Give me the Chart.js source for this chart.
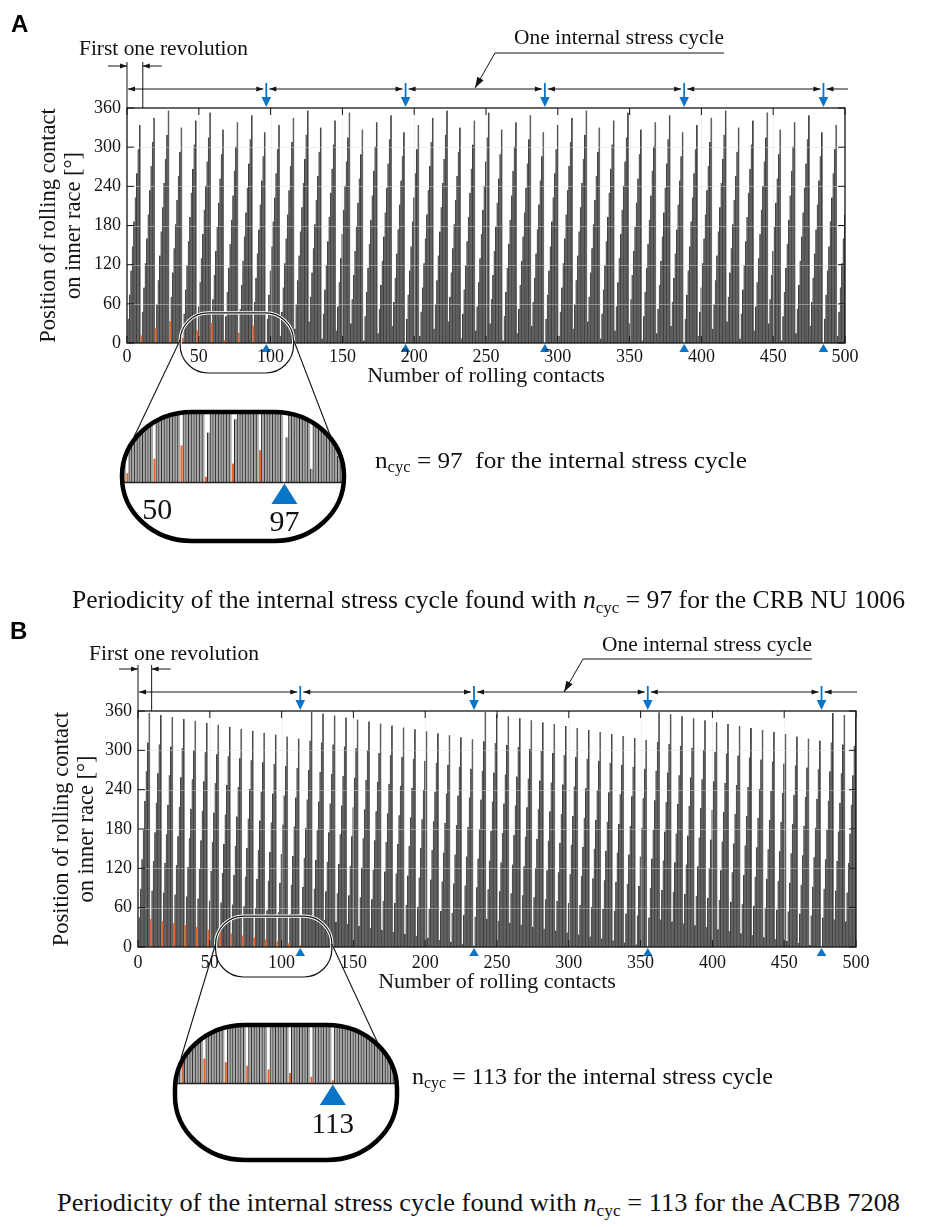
<!DOCTYPE html>
<html>
<head>
<meta charset="utf-8">
<title>Periodicity of the internal stress cycle</title>
<script src="https://cdn.jsdelivr.net/npm/chart.js@4.4.0/dist/chart.umd.min.js"></script>
<style>
  html, body { margin: 0; padding: 0; background: #fff; }
  #page { position: relative; width: 927px; height: 1227px; overflow: hidden; background: #fff; }
  canvas { position: absolute; }
  .main { z-index: 1; }
  .inset { z-index: 2; }
  .txt { position: absolute; z-index: 3; font-family: "Liberation Serif", "Times New Roman", serif;
         line-height: 1; white-space: nowrap; color: #111; transform-origin: 0 0; }
  .panel { position: absolute; z-index: 3; font-family: "Liberation Sans", Arial, sans-serif;
           font-weight: bold; font-size: 24px; line-height: 1; color: #000; }
  .sub { font-size: 0.66em; position: relative; top: 0.28em; }
</style>
</head>
<body>
<div id="page">
  <div class="panel" style="left:11px; top:12px;">A</div>
  <div class="panel" style="left:10px; top:619px;">B</div>

  <canvas id="mainA" class="main" width="927" height="560" style="left:0; top:0;"></canvas>
  <canvas id="insetA" class="inset" width="250" height="150" style="left:110px; top:400px;"></canvas>
  <canvas id="mainB" class="main" width="927" height="560" style="left:0; top:615px;"></canvas>
  <canvas id="insetB" class="inset" width="250" height="160" style="left:160px; top:1012px;"></canvas>

  <div class="txt fit" data-w="169" style="font-size:21.5px; left:79px; top:38px;">First one revolution</div>
  <div class="txt fit" data-w="210" style="font-size:21.5px; left:514px; top:27px;">One internal stress cycle</div>
  <div class="txt fit" data-w="372" style="font-size:24px; left:375px; top:448px;">n<span class="sub">cyc</span> = 97&nbsp;&nbsp;for the internal stress cycle</div>
  <div class="txt fit" data-w="833" style="font-size:25px; left:72px; top:587px;">Periodicity of the internal stress cycle found with <i>n</i><span class="sub">cyc</span> = 97 for the CRB NU 1006</div>

  <div class="txt fit" data-w="170" style="font-size:21.5px; left:89px; top:643px;">First one revolution</div>
  <div class="txt fit" data-w="210" style="font-size:21.5px; left:602px; top:634px;">One internal stress cycle</div>
  <div class="txt fit" data-w="361" style="font-size:24px; left:412px; top:1064px;">n<span class="sub">cyc</span> = 113 for the internal stress cycle</div>
  <div class="txt fit" data-w="843" style="font-size:25px; left:57px; top:1190px;">Periodicity of the internal stress cycle found with <i>n</i><span class="sub">cyc</span> = 113 for the ACBB 7208</div>
</div>

<script>
// ---- data ----
const xTicks = [0, 50, 100, 150, 200, 250, 300, 350, 400, 450, 500];
const yTicks = [0, 60, 120, 180, 240, 300, 360];

// A: CRB NU 1006, contact position on inner race (deg) for contacts 0..500
const posA = [
  // cycle 1 (0-96)
  0,37,74,111,148,186,223,260,297,334, 11,48,85,122,160,197,234,271,308,345,
  22,59,96,134,171,208,245,282,319,356, 33,71,108,145,182,219,256,293,330,
  7,45,82,119,156,193,230,267,304,341, 19,56,93,130,167,204,241,278,315,353,
  30,67,104,141,178,215,252,289,327, 4,41,78,115,152,189,226,264,301,338,
  15,52,89,126,163,200,238,275,312,349, 26,63,100,137,174,212,249,286,323,
  // cycle 2 (97-193)
  0,37,74,111,148,186,223,260,297,334, 11,48,85,122,160,197,234,271,308,345,
  22,59,96,134,171,208,245,282,319,356, 33,71,108,145,182,219,256,293,330,
  7,45,82,119,156,193,230,267,304,341, 19,56,93,130,167,204,241,278,315,353,
  30,67,104,141,178,215,252,289,327, 4,41,78,115,152,189,226,264,301,338,
  15,52,89,126,163,200,238,275,312,349, 26,63,100,137,174,212,249,286,323,
  // cycle 3 (194-290)
  0,37,74,111,148,186,223,260,297,334, 11,48,85,122,160,197,234,271,308,345,
  22,59,96,134,171,208,245,282,319,356, 33,71,108,145,182,219,256,293,330,
  7,45,82,119,156,193,230,267,304,341, 19,56,93,130,167,204,241,278,315,353,
  30,67,104,141,178,215,252,289,327, 4,41,78,115,152,189,226,264,301,338,
  15,52,89,126,163,200,238,275,312,349, 26,63,100,137,174,212,249,286,323,
  // cycle 4 (291-387)
  0,37,74,111,148,186,223,260,297,334, 11,48,85,122,160,197,234,271,308,345,
  22,59,96,134,171,208,245,282,319,356, 33,71,108,145,182,219,256,293,330,
  7,45,82,119,156,193,230,267,304,341, 19,56,93,130,167,204,241,278,315,353,
  30,67,104,141,178,215,252,289,327, 4,41,78,115,152,189,226,264,301,338,
  15,52,89,126,163,200,238,275,312,349, 26,63,100,137,174,212,249,286,323,
  // cycle 5 (388-484)
  0,37,74,111,148,186,223,260,297,334, 11,48,85,122,160,197,234,271,308,345,
  22,59,96,134,171,208,245,282,319,356, 33,71,108,145,182,219,256,293,330,
  7,45,82,119,156,193,230,267,304,341, 19,56,93,130,167,204,241,278,315,353,
  30,67,104,141,178,215,252,289,327, 4,41,78,115,152,189,226,264,301,338,
  15,52,89,126,163,200,238,275,312,349, 26,63,100,137,174,212,249,286,323,
  // 485-500
  0,37,74,111,148,186,223,260,297,334, 11,48,85,122,160,197
];
const markedA = [10, 20, 30, 39, 49, 59, 68, 78, 88];      // orange: tracked roller
const cyclesA = [97, 194, 291, 388, 485];
const firstRevA = 11;
const insetTicksA = [50, 97];

// B: ACBB 7208
const posB = [
  0,45,89,134,178,223,268,312,357,
  42,86,131,175,220,265,309,354, 39,83,128,172,217,262,306,351,
  36,80,125,169,214,259,303,348, 33,77,122,166,211,256,300,345,
  30,74,119,163,208,253,297,342, 26,71,116,160,205,250,294,339,
  23,68,113,157,202,247,291,336, 20,65,110,154,199,244,288,333,
  17,62,107,151,196,241,285,330, 14,59,104,148,193,237,282,327,
  11,56,101,145,190,234,279,324, 8,53,98,142,187,231,276,321,
  5,50,95,139,184,228,273,318,
  2,47,92,136,181,225,270,315,359,
  44,89,133,178,222,267,312,356, 41,85,130,175,219,264,309,353,
  38,82,127,172,216,261,306,350, 35,79,124,169,213,258,303,347,
  32,76,121,166,210,255,300,344, 29,73,118,163,207,252,296,341,
  26,70,115,160,204,249,293,338, 23,67,112,157,201,246,290,335,
  20,64,109,154,198,243,287,332, 17,61,106,151,195,240,284,329,
  14,58,103,148,192,237,281,326, 11,55,100,144,189,234,278,323,
  8,52,97,141,186,231,275,320, 5,49,94,138,183,228,272,317,
  2,46,91,135,180,225,269,314,359,
  43,88,132,177,222,266,311,355, 40,85,129,174,219,263,308,352,
  37,82,126,171,216,260,305,349, 34,79,123,168,213,257,302,346,
  31,76,120,165,210,254,299,343, 28,73,117,162,207,251,296,340,
  25,70,114,159,203,248,293,337, 22,67,111,156,200,245,290,334,
  19,64,108,153,197,242,287,331, 16,61,105,150,194,239,284,328,
  13,58,102,147,191,236,281,325, 10,55,99,144,188,233,278,322,
  7,51,96,141,185,230,275,319, 4,48,93,138,182,227,272,316,
  1,45,90,135,179,224,269,313,358,
  42,87,132,176,221,266,310,355, 39,84,129,173,218,262,307,352,
  36,81,126,170,215,259,304,349, 33,78,123,167,212,256,301,346,
  30,75,120,164,209,253,298,343, 27,72,117,161,206,250,295,340,
  24,69,114,158,203,247,292,337, 21,66,110,155,200,244,289,334,
  18,63,107,152,197,241,286,331, 15,60,104,149,194,238,283,328,
  12,57,101,146,191,235,280,325, 9,54,98,143,188,232,277,321,
  6,51,95,140,185,229,274,318, 3,48,92,137,182,226,271,315,
  0,45,89,134,179,223,268,312,357,
  42,86,131,176,220,265,309,354, 39,83,128,173,217,262,307,351
];
const markedB = [9, 17, 25, 33, 41, 49, 57, 65, 73, 81, 89, 97, 105, 113];
const cyclesB = [113, 234, 355, 476];
const firstRevB = 9.5;
const insetTicksB = [113];

// ---- styling ----
const SERIF = '"Liberation Serif", "Times New Roman", serif';
const GRAY = '#666666';
const ORANGE = '#e0652e';
const BLUE = '#0a74c6';
const INK = '#151515';

function seg(ctx, x1, y1, x2, y2) {
  ctx.beginPath(); ctx.moveTo(x1, y1); ctx.lineTo(x2, y2); ctx.stroke();
}
function head(ctx, x, y, ang, len, hw) {
  const c = Math.cos(ang), s = Math.sin(ang);
  ctx.beginPath();
  ctx.moveTo(x, y);
  ctx.lineTo(x - len * c + hw * s, y - len * s - hw * c);
  ctx.lineTo(x - len * c - hw * s, y - len * s + hw * c);
  ctx.closePath(); ctx.fill();
}

function decorPlugin(cfg) {
  return {
    id: 'decor',
    afterDatasetsDraw(chart) {
      const { ctx, chartArea: ca, scales: { x, y } } = chart;
      ctx.save();
      // grid is drawn over the bars, as in the figure
      ctx.strokeStyle = 'rgba(225,225,225,0.45)';
      ctx.lineWidth = 1;
      ctx.beginPath();
      xTicks.slice(1, -1).forEach(v => {
        const px = Math.round(x.getPixelForValue(v)) + 0.5;
        ctx.moveTo(px, ca.top); ctx.lineTo(px, ca.bottom);
      });
      yTicks.slice(1, -1).forEach(v => {
        const py = Math.round(y.getPixelForValue(v)) + 0.5;
        ctx.moveTo(ca.left, py); ctx.lineTo(ca.right, py);
      });
      ctx.stroke();

      // axes box with inward ticks
      ctx.strokeStyle = INK; ctx.lineWidth = 1.3;
      ctx.strokeRect(ca.left, ca.top, ca.right - ca.left, ca.bottom - ca.top);
      ctx.lineWidth = 1;
      ctx.beginPath();
      xTicks.forEach(v => {
        const px = x.getPixelForValue(v);
        ctx.moveTo(px, ca.top); ctx.lineTo(px, ca.top + 7);
        ctx.moveTo(px, ca.bottom); ctx.lineTo(px, ca.bottom - 7);
      });
      yTicks.forEach(v => {
        const py = y.getPixelForValue(v);
        ctx.moveTo(ca.left, py); ctx.lineTo(ca.left + 7, py);
        ctx.moveTo(ca.right, py); ctx.lineTo(ca.right - 7, py);
      });
      ctx.stroke();

      // magnified region
      const zx0 = x.getPixelForValue(cfg.zoomX[0]), zx1 = x.getPixelForValue(cfg.zoomX[1]);
      const zy0 = y.getPixelForValue(cfg.zoomTop), zy1 = ca.bottom + 30;
      ctx.beginPath();
      ctx.roundRect(zx0, zy0, zx1 - zx0, zy1 - zy0, 28);
      ctx.strokeStyle = '#fff'; ctx.lineWidth = 3.2; ctx.stroke();
      ctx.strokeStyle = INK; ctx.lineWidth = 1.2; ctx.stroke();
      ctx.lineWidth = 1.1;
      seg(ctx, zx0, ca.bottom - 3, cfg.links[0][0], cfg.links[0][1] - cfg.top);
      seg(ctx, zx1, ca.bottom - 3, cfg.links[1][0], cfg.links[1][1] - cfg.top);

      // blue markers under the axis
      ctx.fillStyle = BLUE;
      cfg.cycles.forEach(v => {
        const px = x.getPixelForValue(v);
        ctx.beginPath();
        ctx.moveTo(px, ca.bottom + 1);
        ctx.lineTo(px - 4.8, ca.bottom + 9);
        ctx.lineTo(px + 4.8, ca.bottom + 9);
        ctx.closePath(); ctx.fill();
      });
      ctx.restore();
    },
    afterDraw(chart) {
      const { ctx, chartArea: ca, scales: { x } } = chart;
      const top = ca.top;
      ctx.save();
      ctx.strokeStyle = INK; ctx.fillStyle = INK; ctx.lineWidth = 1;

      // first revolution
      const p0 = x.getPixelForValue(0), p1 = x.getPixelForValue(cfg.firstRev);
      seg(ctx, p0, top - 46, p0, top);
      seg(ctx, p1, top - 46, p1, top);
      const ya = top - 42;
      seg(ctx, p0 - 19, ya, p0, ya); head(ctx, p0, ya, 0, 7, 2.4);
      seg(ctx, p1 + 19, ya, p1, ya); head(ctx, p1, ya, Math.PI, 7, 2.4);

      // internal stress cycles row
      const yr = top - 19;
      const stops = [0].concat(cfg.cycles).map(v => x.getPixelForValue(v));
      stops.forEach((s, i) => {
        const a = s + (i ? 3 : 1);
        const last = i === stops.length - 1;
        const b = last ? cfg.rowEnd : stops[i + 1] - 3;
        seg(ctx, a, yr, b, yr);
        head(ctx, a, yr, Math.PI, 7, 2.4);
        if (!last) head(ctx, b, yr, 0, 7, 2.4);
      });

      // leader to the label
      const L = cfg.leader;
      ctx.beginPath();
      ctx.moveTo(L.x2, L.yu - cfg.top); ctx.lineTo(L.x1, L.yu - cfg.top); ctx.lineTo(L.tx, L.ty - cfg.top);
      ctx.stroke();
      head(ctx, L.tx, L.ty - cfg.top, Math.atan2(L.ty - L.yu, L.tx - L.x1), 11, 3.6);

      // blue arrows at cycle boundaries
      ctx.strokeStyle = BLUE; ctx.fillStyle = BLUE; ctx.lineWidth = 1.8;
      cfg.cycles.forEach(v => {
        const px = x.getPixelForValue(v);
        seg(ctx, px, top - 25, px, top - 10);
        ctx.beginPath();
        ctx.moveTo(px - 4.8, top - 11); ctx.lineTo(px + 4.8, top - 11); ctx.lineTo(px, top - 1);
        ctx.closePath(); ctx.fill();
      });
      ctx.restore();
    }
  };
}

function mainChart(id, pos, marked, cfg) {
  const datasets = [
    { data: marked.map(i => ({ x: i, y: pos[i] })), backgroundColor: ORANGE,
      barThickness: 1.2, grouped: false, order: 0, clip: 0 },
    { data: pos.map((v, i) => ({ x: i, y: marked.includes(i) ? null : v })),
      backgroundColor: GRAY, borderColor: '#262626',
      borderWidth: { left: 0.6, right: 0, top: 0, bottom: 0 },
      barPercentage: 1, categoryPercentage: 1, grouped: false, order: 1, clip: 0 }
  ];
  return new Chart(document.getElementById(id), {
    type: 'bar',
    data: { datasets },
    options: {
      responsive: false, animation: false, events: [],
      layout: { padding: { left: 0, top: cfg.padTop, right: cfg.padRight, bottom: cfg.padBottom } },
      plugins: { legend: { display: false }, tooltip: { enabled: false } },
      scales: {
        x: {
          type: 'linear', min: 0, max: 500, offset: false,
          grid: { display: false, drawTicks: false }, border: { display: false },
          afterBuildTicks: s => { s.ticks = xTicks.map(v => ({ value: v })); },
          afterFit: s => { s.height = 57; },
          ticks: { font: { family: SERIF, size: 18 }, color: INK, padding: cfg.xTickPad,
                   maxRotation: 0, autoSkip: false, z: 1 },
          title: { display: true, text: 'Number of rolling contacts', color: INK,
                   font: { family: SERIF, size: 22 }, padding: { top: 0, bottom: cfg.xTitlePad } }
        },
        y: {
          min: 0, max: 360,
          grid: { display: false, drawTicks: false }, border: { display: false },
          afterBuildTicks: s => { s.ticks = yTicks.map(v => ({ value: v })); },
          afterFit: s => { s.width = cfg.yWidth; },
          ticks: { font: { family: SERIF, size: 18 }, color: INK, padding: 6 },
          title: { display: true, text: ['Position of rolling contact', 'on inner race [°]'], color: INK,
                   font: { family: SERIF, size: 22.5, lineHeight: '25px' }, padding: { top: cfg.yTitlePad, bottom: 0 } }
        }
      }
    },
    plugins: [decorPlugin(cfg)]
  });
}

function insetPlugin(cfg) {
  const shape = (ctx, ca) => {
    ctx.beginPath();
    ctx.roundRect(ca.left, ca.top, ca.right - ca.left, cfg.h, [{ x: 70, y: 64 }]);
  };
  return {
    id: 'inset',
    beforeDatasetsDraw(chart) {
      const { ctx, chartArea: ca } = chart;
      ctx.save();
      shape(ctx, ca);
      ctx.fillStyle = '#fff'; ctx.fill();
      ctx.clip();
    },
    afterDatasetsDraw(chart) {
      const { ctx, chartArea: ca, scales: { x } } = chart;
      ctx.strokeStyle = '#222'; ctx.lineWidth = 1.5;
      seg(ctx, ca.left - 10, ca.bottom + 0.5, ca.right + 10, ca.bottom + 0.5);
      ctx.restore();
      ctx.save();
      shape(ctx, ca);
      ctx.strokeStyle = '#000'; ctx.lineWidth = 4.5; ctx.stroke();
      const px = x.getPixelForValue(cfg.mark);
      ctx.fillStyle = BLUE;
      ctx.beginPath();
      ctx.moveTo(px, ca.bottom + 1.5); ctx.lineTo(px - 13, ca.bottom + 22); ctx.lineTo(px + 13, ca.bottom + 22);
      ctx.closePath(); ctx.fill();
      ctx.restore();
    }
  };
}

function insetChart(id, pos, marked, cfg) {
  const datasets = [
    { data: marked.map(i => ({ x: i, y: pos[i] })), backgroundColor: ORANGE,
      barThickness: 1.4, grouped: false, order: 0, clip: 0 },
    { data: pos.map((v, i) => ({ x: i, y: marked.includes(i) ? null : v })),
      backgroundColor: '#a8a8a8', borderColor: '#1a1a1a',
      borderWidth: { left: 0.9, right: 0, top: 0, bottom: 0 },
      barPercentage: 1, categoryPercentage: 1, grouped: false, order: 1, clip: 0 }
  ];
  return new Chart(document.getElementById(id), {
    type: 'bar',
    data: { datasets },
    options: {
      responsive: false, animation: false, events: [],
      layout: { padding: cfg.pad },
      plugins: { legend: { display: false }, tooltip: { enabled: false } },
      scales: {
        x: {
          type: 'linear', min: cfg.range[0], max: cfg.range[1], offset: false,
          grid: { display: false, drawTicks: false }, border: { display: false },
          afterBuildTicks: s => { s.ticks = cfg.ticks.map(v => ({ value: v })); },
          afterFit: s => { s.height = cfg.axisH; },
          ticks: {
            color: '#111', padding: cfg.tickPad, maxRotation: 0, autoSkip: false, z: 1,
            font: c => ({ family: SERIF, size: cfg.tickSize,
                          lineHeight: c.tick && c.tick.value === cfg.mark ? 2.0 : 1.2 })
          }
        },
        y: { display: false, min: 0, max: cfg.ymax }
      }
    },
    plugins: [insetPlugin(cfg)]
  });
}

mainChart('mainA', posA, markedA, {
  top: 0, padTop: 108, padRight: 82, padBottom: 160, yWidth: 127,
  xTickPad: 3, xTitlePad: 10.8, yTitlePad: 37,
  cycles: cyclesA, firstRev: firstRevA, rowEnd: 848,
  zoomX: [37, 116], zoomTop: 46,
  links: [[134, 437], [332, 440]],
  leader: { x1: 495, x2: 724, yu: 53, tx: 475, ty: 88 }
});
mainChart('mainB', posB, markedB, {
  top: 615, padTop: 96, padRight: 71, padBottom: 171, yWidth: 138,
  xTickPad: 5.5, xTitlePad: 8.8, yTitlePad: 50,
  cycles: cyclesB, firstRev: firstRevB, rowEnd: 857,
  zoomX: [54, 135], zoomTop: 47,
  links: [[181, 1058], [381, 1050]],
  leader: { x1: 583, x2: 812, yu: 659, tx: 564, ty: 692 }
});
insetChart('insetA', posA, markedA, {
  range: [37, 119], ymax: 58, ticks: insetTicksA, mark: 97, tickSize: 30,
  pad: { left: 12, right: 16, top: 12, bottom: 0 }, axisH: 68, tickPad: 11, h: 129
});
insetChart('insetB', posB, markedB, {
  range: [54, 137], ymax: 48, ticks: insetTicksB, mark: 113, tickSize: 29,
  pad: { left: 15, right: 13, top: 13, bottom: 0 }, axisH: 89, tickPad: 13, h: 135
});

// stretch the annotation texts to the widths measured on the figure
document.querySelectorAll('.fit').forEach(el => {
  const w = el.getBoundingClientRect().width;
  el.style.transform = 'scaleX(' + (+el.dataset.w / w).toFixed(4) + ')';
});
</script>
</body>
</html>
